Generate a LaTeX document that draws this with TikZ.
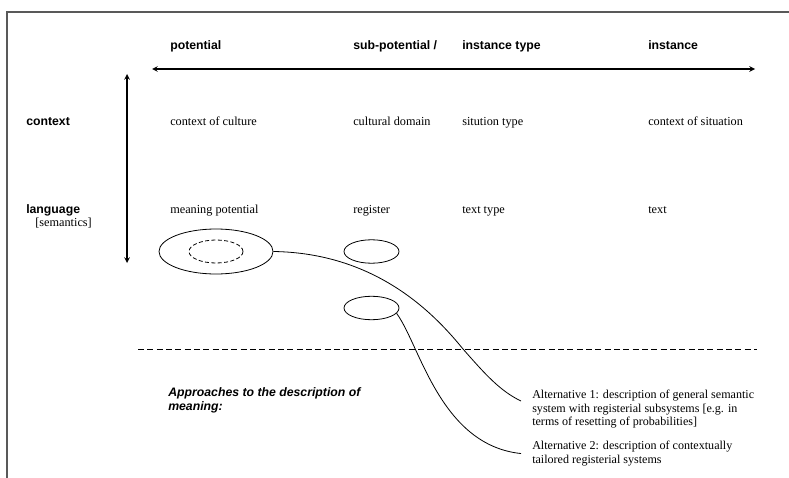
\documentclass[tikz,border=0pt]{standalone}
\usepackage{fontspec}
\setmainfont{Liberation Serif}
\newfontfamily\headfont{Liberation Sans}
\usetikzlibrary{shapes.geometric}

\tikzset{
  head/.style={anchor=base west, inner sep=0, font=\headfont\bfseries\fontsize{9.2}{11}\selectfont},
  cell/.style={anchor=base west, inner sep=0, font=\fontsize{9.2}{10}\selectfont},
  note/.style={anchor=north west, inner xsep=8.25pt, inner ysep=0, align=left, font=\fontsize{9.05}{10.1}\selectfont},
  oval/.style={draw, ellipse, inner sep=0, line width=0.6pt},
  link/.style={line width=0.6pt},
}

\begin{document}
\begin{tikzpicture}[x=0.75pt, y=-0.75pt]
  \useasboundingbox (0,0) rectangle (789,478);
  % frame
  \draw[line width=1.1pt, black!65] (789,12) -| (7,478);
  % column heads
  \node[head] (pot) at (170,50) {potential};
  \node[head] (subpot) at (353,50) {sub-potential /};
  \node[head] (insttype) at (462,50) {instance type};
  \node[head] (inst) at (648,50) {instance};
  % axes
  \coordinate (hl) at (152,69);
  \coordinate (hr) at (755,69);
  \draw [>=stealth,<->,line width=0.9pt] (hl) -- (hr);
  \coordinate (vt) at (127,74);
  \coordinate (vb) at (127,263);
  \draw [>=stealth,<->,line width=0.9pt] (vt) -- (vb);
  % context row
  \node[head] (ctx) at (26,125) {context};
  \node[cell] (ctxcult) at (170,125) {context of culture};
  \node[cell] (culdom) at (353,125) {cultural domain};
  \node[cell] (sittype) at (462,125) {sitution type};
  \node[cell] (ctxsit) at (648,125) {context of situation};
  % language row
  \node[head] (lang) at (26,213) {language};
  \node[cell] (sem) at (35,226) {[semantics]};
  \node[cell] (meanpot) at (170,213) {meaning potential};
  \node[cell] (reg) at (353,213) {register};
  \node[cell] (txttype) at (462,213) {text type};
  \node[cell] (txt) at (648,213) {text};
  % systems
  \node[oval, minimum width=85.5pt, minimum height=33.75pt] (mpOval) at (216,251.5) {};
  \node[oval, dash pattern=on 3pt off 1.8pt, minimum width=40.5pt, minimum height=17.25pt] (mpInner) at (216,251.5) {};
  \node[oval, minimum width=41.25pt, minimum height=17.6pt] (regA) at (371.5,251.5) {};
  \node[oval, minimum width=41.25pt, minimum height=17.6pt] (regB) at (371.5,308) {};
  % divider
  \coordinate (dl) at (138,349);
  \coordinate (dr) at (757,349);
  \draw[dash pattern=on 4.5pt off 2.5pt, line width=0.6pt] (dl) -- (dr);
  % approaches
  \node[head, font=\headfont\bfseries\itshape\fontsize{9.2}{10.5}\selectfont, align=left, anchor=base west] (appr) at (168,410)
    {Approaches to the description of\\meaning:};
  \node[note] (alt1) at (521,390) {Alternative 1: description of general semantic\\system with registerial subsystems [e.g. in\\terms of resetting of probabilities]};
  \node[note] (alt2) at (521,441) {Alternative 2: description of contextually\\tailored registerial systems};
  \draw[link] (mpOval.east) .. controls (375,253) and (433,312) .. (463,349)
    .. controls (485,374) and (500,391) .. ([yshift=-8.25pt]alt1.north west);
  \draw[link] (regB.-12) .. controls (420,345) and (440,445) .. (alt2.west);
\end{tikzpicture}
\end{document}
